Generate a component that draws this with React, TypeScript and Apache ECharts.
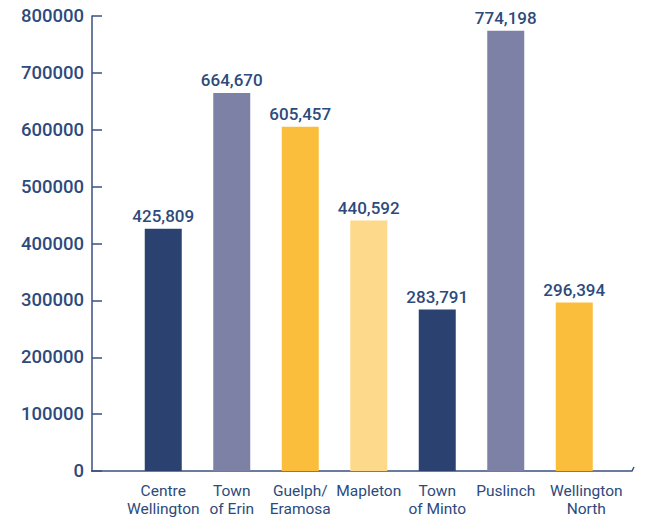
import React, { useEffect, useRef } from "react";
import * as echarts from "echarts";

const categories = [
  "Centre\nWellington",
  "Town\nof Erin",
  "Guelph/\nEramosa",
  "Mapleton",
  "Town\nof Minto",
  "Puslinch",
  "Wellington\nNorth",
];
const values = [425809, 664670, 605457, 440592, 283791, 774198, 296394];
const barColors = ["#2b4270", "#7e81a6", "#fbbd3c", "#fdd98c", "#2b4270", "#7e81a6", "#fbbd3c"];
const yTicks = { min: 0, max: 800000, interval: 100000 };

const NAVY = "#2d4a7c";
const FONT = "Roboto";

export default function App() {
  const ref = useRef<HTMLDivElement>(null);
  useEffect(() => {
    document.body.style.margin = "0";
    const chart = echarts.init(ref.current!, null, { renderer: "svg" });
    chart.setOption({
      animation: false,
      backgroundColor: "#ffffff",
      grid: { left: 129, right: 37.5, top: 16, bottom: 47 },
      xAxis: {
        type: "category",
        data: categories.map((c, i) =>
          i === categories.length - 1
            ? { value: c, textStyle: { padding: [0, 0, 0, 24] } }
            : c
        ),
        axisLine: { show: false },
        axisTick: { show: false },
        axisLabel: {
          interval: 0,
          color: NAVY,
          fontFamily: FONT,
          fontWeight: "normal",
          fontSize: 15.5,
          lineHeight: 18,
          margin: 11,
        },
      },
      yAxis: {
        type: "value",
        min: yTicks.min,
        max: yTicks.max,
        interval: yTicks.interval,
        offset: 37,
        splitLine: { show: false },
        axisLine: { show: true, lineStyle: { color: "#3b5080", width: 1.5 } },
        axisTick: { show: true, inside: true, length: 10, lineStyle: { color: "#3b5080", width: 1.5 } },
        axisLabel: {
          color: NAVY,
          fontFamily: FONT,
          fontWeight: 500,
          fontSize: 18.5,
          margin: 8,
          formatter: (v: number) => String(v),
        },
      },
      graphic: [
        {
          type: "polyline",
          shape: { points: [[91, 471], [632, 471], [634, 467]] },
          style: { stroke: "#3b5080", lineWidth: 1.5, fill: null },
        },
      ],
      series: [
        {
          type: "bar",
          barWidth: 37,
          data: values.map((v, i) => ({ value: v, itemStyle: { color: barColors[i] } })),
          label: {
            show: true,
            position: "top",
            distance: 4,
            color: NAVY,
            fontFamily: FONT,
            fontWeight: 500,
            fontSize: 17,
            formatter: (p: any) => Number(p.value).toLocaleString("en-US"),
          },
        },
      ],
    });
    return () => chart.dispose();
  }, []);
  return (
    <div
      ref={ref}
      style={{ position: "absolute", left: 0, top: 0, width: 646, height: 518 }}
    />
  );
}
